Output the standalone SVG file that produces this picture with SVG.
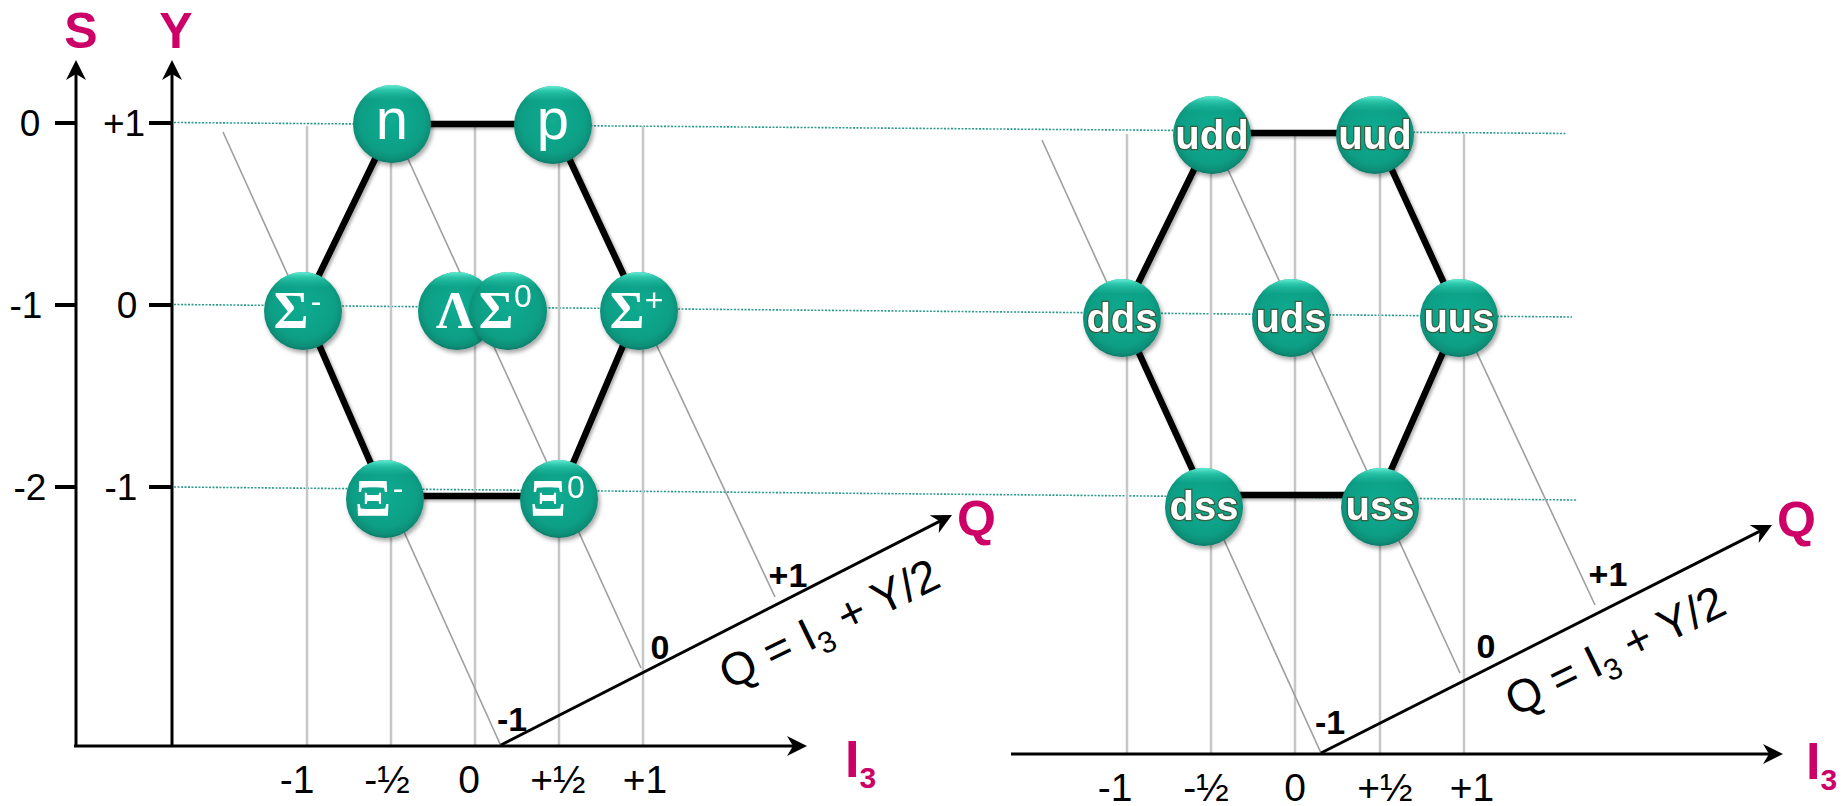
<svg xmlns="http://www.w3.org/2000/svg" width="1843" height="806" viewBox="0 0 1843 806">
<style>
.dot{stroke:#2a9d8f;stroke-width:1.6;stroke-dasharray:2 1.5;fill:none}
.grid{stroke:#c6c6c6;stroke-width:2.5;fill:none}
.ql{stroke:#9e9e9e;stroke-width:1.6;fill:none}
.ax{stroke:#000;stroke-width:3;fill:none}
.tick{stroke:#000;stroke-width:4}
.hex{stroke:#000;stroke-width:6.5;fill:none;stroke-linejoin:round}
.mag{fill:#CC0066;font-family:"Liberation Sans",Arial,sans-serif;font-weight:bold}
.tl{font-family:"Liberation Sans",Arial,sans-serif;font-size:37px;fill:#000;text-anchor:middle}
.bl{font-family:"Liberation Sans",Arial,sans-serif;font-size:39px;fill:#000;text-anchor:middle}
.qn{font-family:"Liberation Sans",Arial,sans-serif;font-size:34px;font-weight:bold;fill:#000;text-anchor:middle}
.qf{font-family:"Liberation Sans",Arial,sans-serif;font-size:46px;fill:#000;text-anchor:middle}
.ball{fill:url(#ballg)}
.gl{fill:url(#gloss)}
.nl{font-family:"Liberation Sans",Arial,sans-serif;font-size:58px;fill:#fff;text-anchor:middle}
.gk{font-family:"Liberation Serif","Times New Roman",serif;font-size:53px;font-weight:bold;fill:#fff;text-anchor:middle}
.sup{font-family:"Liberation Sans",Arial,sans-serif;font-size:32px;fill:#fff;text-anchor:middle}
.qk{font-family:"Liberation Sans",Arial,sans-serif;font-size:40px;font-weight:bold;fill:#fff;text-anchor:middle;stroke:#4a4020;stroke-width:2.5;stroke-opacity:0.7;paint-order:stroke}
</style>
<defs>
<radialGradient id="ballg" cx="50%" cy="45%" r="55%">
<stop offset="0" stop-color="#12ab90"/>
<stop offset="0.75" stop-color="#0d9f86"/>
<stop offset="0.93" stop-color="#0a8d76"/>
<stop offset="1" stop-color="#087866"/>
</radialGradient>
<linearGradient id="gloss" x1="0" y1="0" x2="0" y2="1">
<stop offset="0" stop-color="#6af5dc" stop-opacity="0.95"/>
<stop offset="0.07" stop-color="#3edcc0" stop-opacity="0.6"/>
<stop offset="0.2" stop-color="#20c0a4" stop-opacity="0"/>
<stop offset="1" stop-color="#20c0a4" stop-opacity="0"/>
</linearGradient>
<filter id="sh" x="-30%" y="-30%" width="160%" height="160%">
<feDropShadow dx="2" dy="3" stdDeviation="2" flood-color="#000" flood-opacity="0.35"/>
</filter>
<filter id="lsh" x="-10%" y="-10%" width="120%" height="120%">
<feDropShadow dx="2" dy="2" stdDeviation="1.5" flood-color="#000" flood-opacity="0.3"/>
</filter>
<marker id="arr" viewBox="-14 -12 24 24" markerWidth="24" markerHeight="24" refX="0" refY="0" orient="auto" markerUnits="userSpaceOnUse">
<path d="M8,0 L-12,-10 L-6,0 L-12,10 Z" fill="#000"/>
</marker>
</defs>
<rect width="1843" height="806" fill="#fff"/>

<g id="row-lines">
<line class="dot" x1="174" y1="122.5" x2="1567" y2="133.5"/>
<line class="dot" x1="174" y1="304.5" x2="1572" y2="317"/>
<line class="dot" x1="174" y1="487" x2="1577" y2="500"/>
</g>

<g id="grid-left">
<line class="grid" x1="307" y1="126" x2="307" y2="746"/>
<line class="grid" x1="391" y1="126" x2="391" y2="746"/>
<line class="grid" x1="475" y1="126" x2="475" y2="746"/>
<line class="grid" x1="559" y1="126" x2="559" y2="746"/>
<line class="grid" x1="643" y1="126" x2="643" y2="746"/>
<line class="ql" x1="223" y1="132" x2="501" y2="746"/>
<line class="ql" x1="392" y1="124" x2="641" y2="668"/>
<line class="ql" x1="553" y1="125" x2="775" y2="597"/>
</g>
<g id="grid-right">
<line class="grid" x1="1127" y1="134" x2="1127" y2="754"/>
<line class="grid" x1="1211" y1="134" x2="1211" y2="754"/>
<line class="grid" x1="1295" y1="134" x2="1295" y2="754"/>
<line class="grid" x1="1380" y1="134" x2="1380" y2="754"/>
<line class="grid" x1="1464" y1="134" x2="1464" y2="754"/>
<line class="ql" x1="1042" y1="140" x2="1321" y2="753"/>
<line class="ql" x1="1212" y1="135" x2="1460" y2="673"/>
<line class="ql" x1="1375" y1="135" x2="1595" y2="605"/>
</g>

<g id="axes-left">
<line class="ax" x1="76" y1="746" x2="76" y2="68" marker-end="url(#arr)"/>
<line class="ax" x1="172" y1="746" x2="172" y2="68" marker-end="url(#arr)"/>
<line class="ax" x1="74" y1="746" x2="799" y2="746" stroke-width="3.5" marker-end="url(#arr)"/>
<line class="ax" x1="501" y1="745" x2="944.9" y2="518.6" marker-end="url(#arr)"/>
<line class="tick" x1="55" y1="123" x2="76" y2="123"/>
<line class="tick" x1="55" y1="305" x2="76" y2="305"/>
<line class="tick" x1="55" y1="487" x2="76" y2="487"/>
<line class="tick" x1="149" y1="123" x2="172" y2="123"/>
<line class="tick" x1="149" y1="305" x2="172" y2="305"/>
<line class="tick" x1="149" y1="487" x2="172" y2="487"/>
<text class="mag" x="81" y="48" font-size="50" text-anchor="middle">S</text>
<text class="mag" x="176" y="48" font-size="50" text-anchor="middle">Y</text>
<text class="mag" x="957" y="536" font-size="50">Q</text>
<text class="mag" x="845" y="777" font-size="52">I<tspan font-size="30" dy="11">3</tspan></text>
<text class="tl" x="30" y="136">0</text>
<text class="tl" x="26" y="318">-1</text>
<text class="tl" x="30" y="500">-2</text>
<text class="tl" x="124" y="136">+1</text>
<text class="tl" x="127" y="318">0</text>
<text class="tl" x="121" y="500">-1</text>
<text class="bl" x="297" y="793">-1</text>
<text class="bl" x="387" y="793">-½</text>
<text class="bl" x="469" y="793">0</text>
<text class="bl" x="558" y="793">+½</text>
<text class="bl" x="645" y="793">+1</text>
<text class="qn" x="512" y="731">-1</text>
<text class="qn" x="660" y="659">0</text>
<text class="qn" x="788" y="587">+1</text>
<text class="qf" transform="translate(836,638) rotate(-26)">Q = I<tspan font-size="30" dy="10">3</tspan><tspan dy="-10"> + Y/2</tspan></text>
</g>

<g id="axes-right">
<line class="ax" x1="1011" y1="754" x2="1775" y2="754" stroke-width="3.5" marker-end="url(#arr)"/>
<line class="ax" x1="1321" y1="753" x2="1764.9" y2="528.6" marker-end="url(#arr)"/>
<text class="mag" x="1777" y="537" font-size="50">Q</text>
<text class="mag" x="1806" y="779" font-size="52">I<tspan font-size="30" dy="11">3</tspan></text>
<text class="bl" x="1115" y="801">-1</text>
<text class="bl" x="1206" y="801">-½</text>
<text class="bl" x="1295" y="801">0</text>
<text class="bl" x="1385" y="801">+½</text>
<text class="bl" x="1472" y="801">+1</text>
<text class="qn" x="1330" y="734">-1</text>
<text class="qn" x="1486" y="658">0</text>
<text class="qn" x="1608" y="586">+1</text>
<text class="qf" transform="translate(1622,665) rotate(-26)">Q = I<tspan font-size="30" dy="10">3</tspan><tspan dy="-10"> + Y/2</tspan></text>
</g>

<g id="connectors" filter="url(#lsh)">
<polygon class="hex" points="392,124 553,124 639,308 559,496 385,496 303,308"/>
<polygon class="hex" points="1212,133 1375,133 1459,316 1380,495 1204,495 1122,316"/>
</g>

<g id="node-n" filter="url(#sh)"><circle class="ball" cx="392" cy="124" r="39"/><circle class="gl" cx="392" cy="124" r="39"/><text class="nl" x="392" y="139">n</text></g>
<g id="node-p" filter="url(#sh)"><circle class="ball" cx="553" cy="125" r="39"/><circle class="gl" cx="553" cy="125" r="39"/><text class="nl" x="553" y="139">p</text></g>
<g id="node-sigma-minus" filter="url(#sh)"><circle class="ball" cx="303" cy="311" r="39"/><circle class="gl" cx="303" cy="311" r="39"/><text><tspan class="gk" x="291" y="328">Σ</tspan><tspan class="sup" x="316" y="312">-</tspan></text></g>
<g id="node-lambda" filter="url(#sh)"><circle class="ball" cx="457" cy="311" r="39"/><circle class="gl" cx="457" cy="311" r="39"/><text class="gk" x="455" y="328">Λ</text></g>
<g id="node-sigma-zero" filter="url(#sh)"><circle class="ball" cx="508" cy="311" r="39"/><circle class="gl" cx="508" cy="311" r="39"/><text><tspan class="gk" x="496" y="328">Σ</tspan><tspan class="sup" x="523" y="307" font-size="27">0</tspan></text></g>
<g id="node-sigma-plus" filter="url(#sh)"><circle class="ball" cx="639" cy="311" r="39"/><circle class="gl" cx="639" cy="311" r="39"/><text><tspan class="gk" x="627" y="328">Σ</tspan><tspan class="sup" x="654" y="311">+</tspan></text></g>
<g id="node-xi-minus" filter="url(#sh)"><circle class="ball" cx="385" cy="499" r="39"/><circle class="gl" cx="385" cy="499" r="39"/><text><tspan class="gk" x="373" y="516">Ξ</tspan><tspan class="sup" x="398" y="499" font-size="26">-</tspan></text></g>
<g id="node-xi-zero" filter="url(#sh)"><circle class="ball" cx="559" cy="499" r="39"/><circle class="gl" cx="559" cy="499" r="39"/><text><tspan class="gk" x="548" y="516">Ξ</tspan><tspan class="sup" x="576" y="498" font-size="28">0</tspan></text></g>

<g id="node-udd" filter="url(#sh)"><circle class="ball" cx="1212" cy="135" r="39"/><circle class="gl" cx="1212" cy="135" r="39"/><text class="qk" x="1212" y="149">udd</text></g>
<g id="node-uud" filter="url(#sh)"><circle class="ball" cx="1375" cy="135" r="39"/><circle class="gl" cx="1375" cy="135" r="39"/><text class="qk" x="1375" y="149">uud</text></g>
<g id="node-dds" filter="url(#sh)"><circle class="ball" cx="1122" cy="318" r="39"/><circle class="gl" cx="1122" cy="318" r="39"/><text class="qk" x="1122" y="332">dds</text></g>
<g id="node-uds" filter="url(#sh)"><circle class="ball" cx="1291" cy="318" r="39"/><circle class="gl" cx="1291" cy="318" r="39"/><text class="qk" x="1291" y="332">uds</text></g>
<g id="node-uus" filter="url(#sh)"><circle class="ball" cx="1459" cy="318" r="39"/><circle class="gl" cx="1459" cy="318" r="39"/><text class="qk" x="1459" y="332">uus</text></g>
<g id="node-dss" filter="url(#sh)"><circle class="ball" cx="1204" cy="507" r="39"/><circle class="gl" cx="1204" cy="507" r="39"/><text class="qk" x="1204" y="520">dss</text></g>
<g id="node-uss" filter="url(#sh)"><circle class="ball" cx="1380" cy="507" r="39"/><circle class="gl" cx="1380" cy="507" r="39"/><text class="qk" x="1380" y="520">uss</text></g>
</svg>
